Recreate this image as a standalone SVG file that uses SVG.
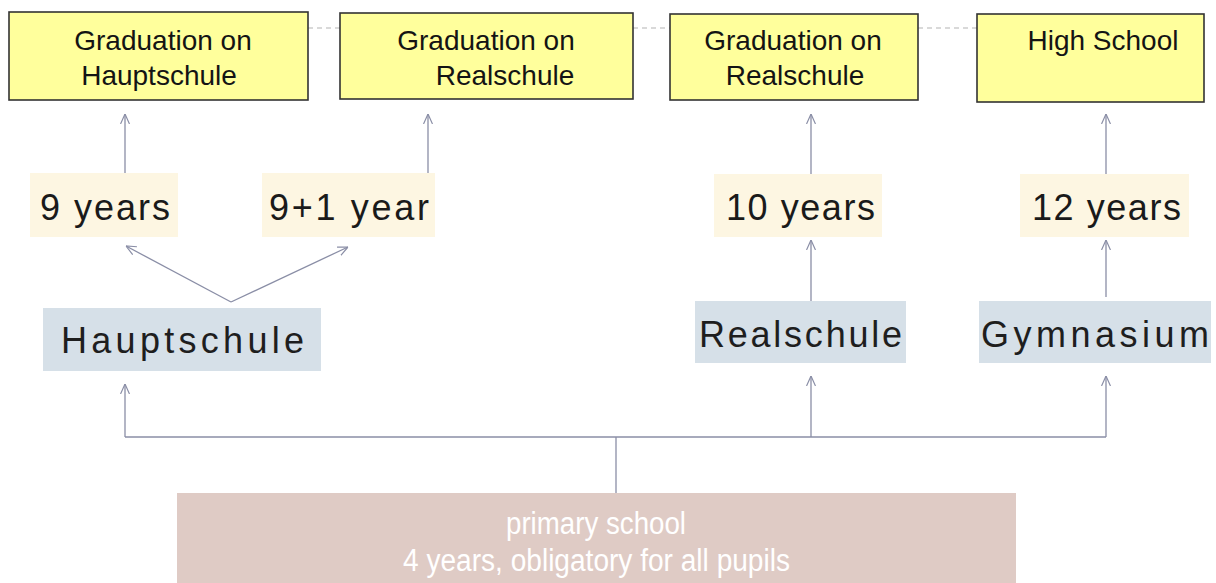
<svg xmlns="http://www.w3.org/2000/svg" width="1216" height="583" viewBox="0 0 1216 583">
<defs>
<marker id="arr" viewBox="0 0 10 10" refX="10" refY="5" markerWidth="10" markerHeight="10" markerUnits="userSpaceOnUse" orient="auto">
<path d="M0,0.5 L10,5 L0,9.5" fill="none" stroke="#8a8ea6" stroke-width="1.2"/>
</marker>
<style>
.grad{fill:#ffff9c;stroke:#333333;stroke-width:1.6}
.gt{font-family:"Liberation Sans",Arial,sans-serif;font-size:28px;fill:#141414;text-anchor:middle}
.yr{fill:#fdf6e2}
.yt{font-family:"Liberation Sans",Arial,sans-serif;font-size:36px;fill:#1a1a1a}
.sc{fill:#d6e0e8}
.st{font-family:"Liberation Sans",Arial,sans-serif;font-size:36px;fill:#1e1e1e}
.pr{fill:#dfcbc5}
.pt{font-family:"Liberation Sans",Arial,sans-serif;font-size:31px;fill:#ffffff}
.ln{fill:none;stroke:#8a8ea6;stroke-width:1.3}
.ar{fill:none;stroke:#8a8ea6;stroke-width:1.3;marker-end:url(#arr)}
.ds{fill:none;stroke:#b4b4b4;stroke-width:1.2;stroke-dasharray:5 4}
</style>
</defs>
<rect width="1216" height="583" fill="#ffffff"/>
<g id="connectors">
<line class="ds" x1="308" y1="28" x2="340" y2="28"/>
<line class="ds" x1="633" y1="28" x2="670" y2="28"/>
<line class="ds" x1="918" y1="28" x2="977" y2="28"/>
<line class="ar" x1="125" y1="174" x2="125" y2="114"/>
<line class="ar" x1="428" y1="174" x2="428" y2="114"/>
<line class="ar" x1="811" y1="174" x2="811" y2="114"/>
<line class="ar" x1="1106" y1="174" x2="1106" y2="114"/>
<line class="ar" x1="231" y1="302" x2="126" y2="246"/>
<line class="ar" x1="231" y1="302" x2="348" y2="247"/>
<line class="ar" x1="811" y1="301" x2="811" y2="240"/>
<line class="ar" x1="1106" y1="297" x2="1106" y2="240"/>
<line class="ln" x1="125" y1="437" x2="1106" y2="437"/>
<line class="ar" x1="125" y1="437" x2="125" y2="384"/>
<line class="ar" x1="811" y1="437" x2="811" y2="376"/>
<line class="ar" x1="1106" y1="437" x2="1106" y2="376"/>
<line class="ln" x1="616" y1="437" x2="616" y2="493"/>
</g>
<g id="grad-hauptschule">
<rect class="grad" x="9" y="12" width="299" height="88"/>
<text class="gt" x="163" y="50">Graduation on</text>
<text class="gt" x="159" y="85">Hauptschule</text>
</g>
<g id="grad-realschule-1">
<rect class="grad" x="340" y="13" width="293" height="86"/>
<text class="gt" x="486" y="50">Graduation on</text>
<text class="gt" x="505" y="85">Realschule</text>
</g>
<g id="grad-realschule-2">
<rect class="grad" x="670" y="14" width="248" height="86"/>
<text class="gt" x="793" y="50">Graduation on</text>
<text class="gt" x="795" y="85">Realschule</text>
</g>
<g id="high-school">
<rect class="grad" x="977" y="14" width="227" height="88"/>
<text class="gt" x="1103" y="50">High School</text>
</g>
<g id="y9">
<rect class="yr" x="30" y="173" width="148" height="64"/>
<text class="yt" x="40" y="220" textLength="130" lengthAdjust="spacing">9 years</text>
</g>
<g id="y9p1">
<rect class="yr" x="262" y="173" width="173" height="64"/>
<text class="yt" x="269" y="220" textLength="160" lengthAdjust="spacing">9+1 year</text>
</g>
<g id="y10">
<rect class="yr" x="714" y="174" width="168" height="63"/>
<text class="yt" x="726" y="220" textLength="149" lengthAdjust="spacing">10 years</text>
</g>
<g id="y12">
<rect class="yr" x="1020" y="174" width="169" height="63"/>
<text class="yt" x="1032" y="220" textLength="149" lengthAdjust="spacing">12 years</text>
</g>
<g id="hauptschule">
<rect class="sc" x="43" y="308" width="278" height="63"/>
<text class="st" x="61" y="353" textLength="243" lengthAdjust="spacing">Hauptschule</text>
</g>
<g id="realschule">
<rect class="sc" x="695" y="301" width="211" height="62"/>
<text class="st" x="699" y="347" textLength="203" lengthAdjust="spacing">Realschule</text>
</g>
<g id="gymnasium">
<rect class="sc" x="979" y="301" width="232" height="62"/>
<text class="st" x="981" y="347" textLength="228" lengthAdjust="spacing">Gymnasium</text>
</g>
<g id="primary-school">
<rect class="pr" x="177" y="493" width="839" height="90"/>
<text class="pt" x="506" y="534" textLength="180" lengthAdjust="spacingAndGlyphs">primary school</text>
<text class="pt" x="403" y="571" textLength="387" lengthAdjust="spacingAndGlyphs">4 years, obligatory for all pupils</text>
</g>
</svg>
